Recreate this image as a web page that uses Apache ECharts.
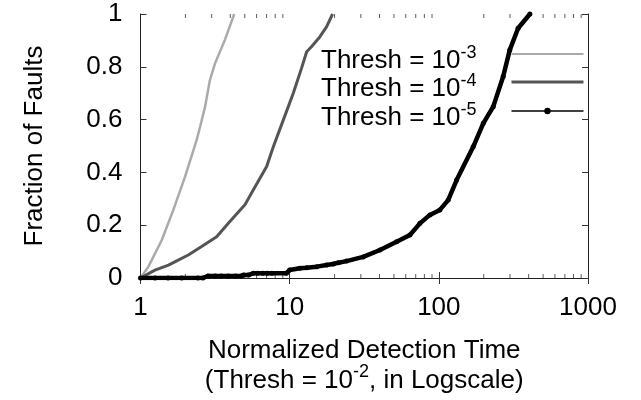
<!DOCTYPE html>
<html>
<head>
<meta charset="utf-8">
<script src="https://cdn.jsdelivr.net/npm/echarts@6/dist/echarts.min.js"></script>
<style>html,body{margin:0;padding:0;background:#fff}#c{width:641px;height:400px}</style>
</head>
<body>
<div id="c"></div>
<script>
// Series: Thresh = 10^-3
const x3 = [1, 1.13, 1.39, 1.66, 1.99, 2.38, 2.51, 2.71, 2.92, 3.16, 3.68, 4.19, 4.24];
const y3 = [0, 0.043, 0.144, 0.258, 0.384, 0.523, 0.573, 0.649, 0.75, 0.813, 0.902, 0.99, 1.0];
// Series: Thresh = 10^-4
const x4 = [1, 1.25, 1.54, 1.79, 2.09, 2.57, 3.24, 3.88, 5.01, 5.7, 7.01, 7.77, 9.06, 10.57, 12.0, 13.0, 14.0, 15.96, 17.7, 19.4];
const y4 = [0, 0.030, 0.049, 0.068, 0.087, 0.119, 0.156, 0.207, 0.277, 0.333, 0.422, 0.497, 0.598, 0.70, 0.794, 0.857, 0.876, 0.914, 0.952, 1.0];
// Series: Thresh = 10^-5
const x5 = [1, 1.25, 1.53, 1.89, 2.43, 2.62, 2.84, 3.17, 3.48, 3.88, 4.33, 4.74, 4.9, 5.3, 5.7, 6.1, 6.6, 7.1, 7.6, 9.5, 10.0, 11.7, 13.0, 15.2, 17.7, 19.6, 21.2, 24.1, 31.1, 40.3, 52.1, 64, 74.7, 87.1, 101.6, 115.5, 131.6, 170, 198.6, 231.6, 270, 299, 340, 408];
const y5 = [0, 0, 0, 0, 0, 0, 0.008, 0.008, 0.008, 0.008, 0.008, 0.008, 0.011, 0.011, 0.018, 0.018, 0.018, 0.018, 0.018, 0.018, 0.03, 0.037, 0.039, 0.043, 0.049, 0.053, 0.058, 0.064, 0.08, 0.106, 0.137, 0.163, 0.207, 0.239, 0.258, 0.295, 0.371, 0.497, 0.586, 0.649, 0.763, 0.864, 0.946, 1.0];
const seriesNames = ['Thresh = 10^-3', 'Thresh = 10^-4', 'Thresh = 10^-5'];
const supers = ['-3', '-4', '-5'];
const xTicks = [1, 10, 100, 1000];
const yTicks = [0, 0.2, 0.4, 0.6, 0.8, 1];
const minorTicks = [2,3,4,5,6,7,8,9,20,30,40,50,60,70,80,90,200,300,400,500,600,700,800,900];

const FONT = 'Liberation Sans, Arial, Helvetica, sans-serif';
const zip = (xs, ys) => xs.map((v, i) => [v, ys[i]]);
const chart = echarts.init(document.getElementById('c'), null, {renderer: 'canvas'});

const axisCommon = {
  axisLine: {show: true, lineStyle: {color: '#222', width: 1}},
  axisTick: {show: true, inside: true, length: 6, lineStyle: {color: '#333'}},
  splitLine: {show: false}
};

const legendItemStyles = [
  {lineStyle: {width: 2}, itemStyle: {opacity: 0}},
  {lineStyle: {width: 3}, itemStyle: {opacity: 0}},
  {lineStyle: {width: 1.5}, itemStyle: {color: '#000'}}
];
const legendTops = [44, 72, 101];

const legends = seriesNames.map((n, i) => ({
  orient: 'vertical', left: 321, top: legendTops[i], align: 'right', padding: 0,
  itemWidth: 72, itemHeight: 8, itemGap: 0, selectedMode: false,
  data: [Object.assign({name: n}, legendItemStyles[i])],
  formatter: name => '{t|Thresh = 10}{s|' + supers[seriesNames.indexOf(name)] + '}',
  textStyle: {
    fontFamily: FONT, color: '#000', padding: [14, 30, 0, 0],
    rich: {
      t: {fontFamily: FONT, fontSize: 26, color: '#000', lineHeight: 34},
      s: {fontFamily: FONT, fontSize: 18, color: '#000', verticalAlign: 'top', lineHeight: 10}
    }
  }
}));

chart.setOption({
  animation: false,
  backgroundColor: '#fff',
  grid: {left: 140.5, right: 53, top: 14, bottom: 122, containLabel: false},
  xAxis: [
    Object.assign({
      type: 'log', logBase: 10, min: xTicks[0], max: xTicks[xTicks.length - 1],
      position: 'bottom',
      axisLabel: {fontFamily: FONT, fontSize: 26, color: '#000', margin: 17,
        formatter: v => String(Math.round(v))},
      name: '{a|Normalized Detection Time}\n{b|(Thresh = 10}{s|-2}{b|, in Logscale)}',
      nameLocation: 'middle', nameGap: 61,
      nameTextStyle: {
        fontFamily: FONT, color: '#000',
        rich: {
          a: {fontFamily: FONT, fontSize: 26, color: '#000', lineHeight: 24},
          b: {fontFamily: FONT, fontSize: 26, color: '#000', lineHeight: 36},
          s: {fontFamily: FONT, fontSize: 18, color: '#000', verticalAlign: 'top', lineHeight: 10}
        }
      }
    }, axisCommon),
    Object.assign({
      type: 'log', logBase: 10, min: xTicks[0], max: xTicks[xTicks.length - 1],
      position: 'top', axisLabel: {show: false}
    }, axisCommon)
  ],
  yAxis: [
    Object.assign({
      type: 'value', min: 0, max: 1, interval: 0.2,
      axisLabel: {fontFamily: FONT, fontSize: 26, color: '#000', margin: 18,
        formatter: v => (Math.round(v * 10) / 10).toString()},
      name: 'Fraction of Faults', nameLocation: 'middle', nameGap: 93,
      nameTextStyle: {fontFamily: FONT, fontSize: 26, color: '#000'}
    }, axisCommon),
    Object.assign({
      type: 'value', min: 0, max: 1, interval: 0.2, position: 'right',
      axisLabel: {show: false}
    }, axisCommon)
  ],
  legend: legends,
  series: [
    {
      name: seriesNames[0], type: 'line', data: zip(x3, y3),
      showSymbol: false, symbol: 'none',
      lineStyle: {color: '#aaaaaa', width: 2.5}, itemStyle: {color: '#aaaaaa'}
    },
    {
      name: seriesNames[1], type: 'line', data: zip(x4, y4),
      showSymbol: false, symbol: 'none',
      lineStyle: {color: '#555555', width: 3}, itemStyle: {color: '#555555'}
    },
    {
      name: seriesNames[2], type: 'line', data: zip(x5, y5),
      symbol: 'circle', symbolSize: 5, showSymbol: true,
      lineStyle: {color: '#000', width: 4.5}, itemStyle: {color: '#000'}
    },
    {
      name: 'minorBottom', type: 'scatter', xAxisIndex: 0, yAxisIndex: 0,
      data: minorTicks.map(v => [v, 0]), symbol: 'rect', symbolSize: [1, 4], symbolOffset: [0, -2],
      itemStyle: {color: '#333'}, silent: true, z: 1
    },
    {
      name: 'minorTop', type: 'scatter', xAxisIndex: 0, yAxisIndex: 0,
      data: minorTicks.map(v => [v, 1]), symbol: 'rect', symbolSize: [1, 4], symbolOffset: [0, 2],
      itemStyle: {color: '#333'}, silent: true, z: 1
    }
  ]
});
</script>
</body>
</html>
